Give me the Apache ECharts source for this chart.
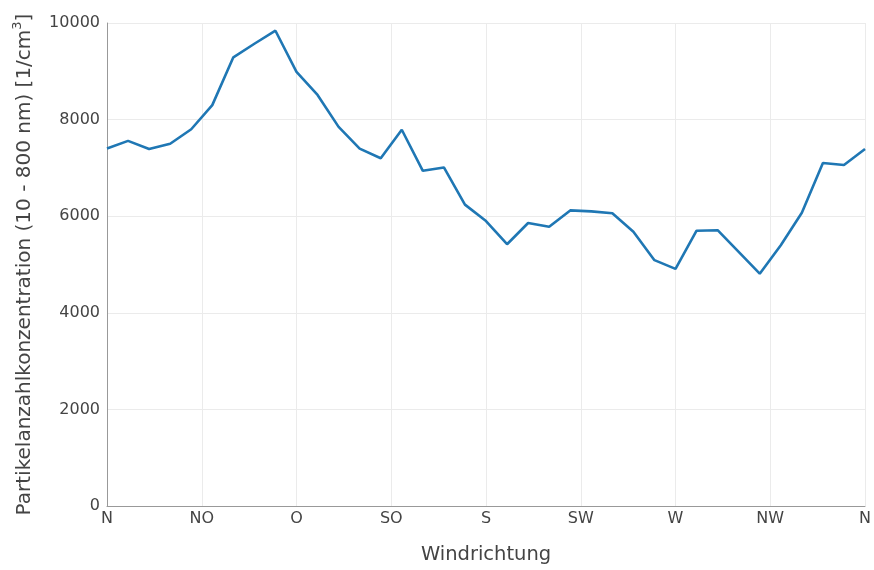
<!DOCTYPE html>
<html>
<head>
<meta charset="utf-8">
<script src="https://cdn.jsdelivr.net/npm/echarts@6/dist/echarts.min.js"></script>
<style>
  html, body { margin: 0; padding: 0; background: #fff; }
  #chart { width: 874px; height: 570px; }
</style>
</head>
<body>
<div id="chart"></div>
<script>
// Wind direction in degrees (0 = N, clockwise)
const directions = [0, 10, 20, 30, 40, 50, 60, 70, 80, 90, 100, 110, 120, 130, 140, 150, 160, 170, 180,
  190, 200, 210, 220, 230, 240, 250, 260, 270, 280, 290, 300, 310, 320, 330, 340, 350, 360];

// Mean particle number concentration per direction [1/cm³]
const concentration = [7400, 7560, 7390, 7500, 7800, 8300, 9290, 9570, 9840, 8990, 8510, 7850, 7400, 7200, 7790,
  6940, 7010, 6240, 5900, 5420, 5860, 5780, 6120, 6100, 6060, 5680, 5090, 4910, 5700, 5710,
  5260, 4810, 5400, 6070, 7100, 7060, 7390];

// Compass labels every 45°
const compassTicks = [0, 45, 90, 135, 180, 225, 270, 315, 360];
const compassNames = ['N', 'NO', 'O', 'SO', 'S', 'SW', 'W', 'NW', 'N'];

const yTicks = [0, 2000, 4000, 6000, 8000, 10000];

const font = '"DejaVu Sans", Verdana, sans-serif';
const chart = echarts.init(document.getElementById('chart'), null, { renderer: 'canvas' });

chart.setOption({
  animation: false,
  backgroundColor: '#ffffff',
  grid: { left: 107, right: 6, top: 23, bottom: 58, containLabel: false },
  xAxis: {
    type: 'value',
    min: 0,
    max: 360,
    interval: 45,
    name: 'Windrichtung',
    nameLocation: 'middle',
    nameGap: 39,
    nameTextStyle: { fontFamily: font, fontSize: 19.5, color: '#444' },
    axisLine: { show: true, lineStyle: { color: '#999', width: 1 } },
    axisTick: { show: false },
    axisLabel: {
      fontFamily: font, fontSize: 16, color: '#444', margin: 5,
      formatter: function (v) {
        const i = compassTicks.indexOf(v);
        return i >= 0 ? compassNames[i] : '';
      }
    },
    splitLine: { show: true, lineStyle: { color: '#ebebeb', width: 1 } }
  },
  yAxis: {
    type: 'value',
    min: yTicks[0],
    max: yTicks[yTicks.length - 1],
    interval: 2000,
    name: '{t|Partikelanzahlkonzentration (10 - 800 nm) [1/cm}{s|3}{t|]}',
    nameLocation: 'middle',
    nameGap: 72,
    nameTextStyle: {
      rich: {
        t: { fontFamily: font, fontSize: 20, color: '#444', verticalAlign: 'bottom', lineHeight: 24 },
        s: { fontFamily: font, fontSize: 13, color: '#444', verticalAlign: 'top', lineHeight: 24 }
      }
    },
    axisLine: { show: true, lineStyle: { color: '#999', width: 1 } },
    axisTick: { show: false },
    axisLabel: {
      fontFamily: font, fontSize: 16, color: '#444', margin: 7,
      formatter: function (v) { return String(v); }
    },
    splitLine: { show: true, lineStyle: { color: '#ebebeb', width: 1 } }
  },
  series: [{
    type: 'line',
    data: directions.map((d, i) => [d, concentration[i]]),
    showSymbol: false,
    symbol: 'none',
    lineStyle: { color: '#1f77b4', width: 2.6 },
    z: 5
  }]
});
</script>
</body>
</html>
